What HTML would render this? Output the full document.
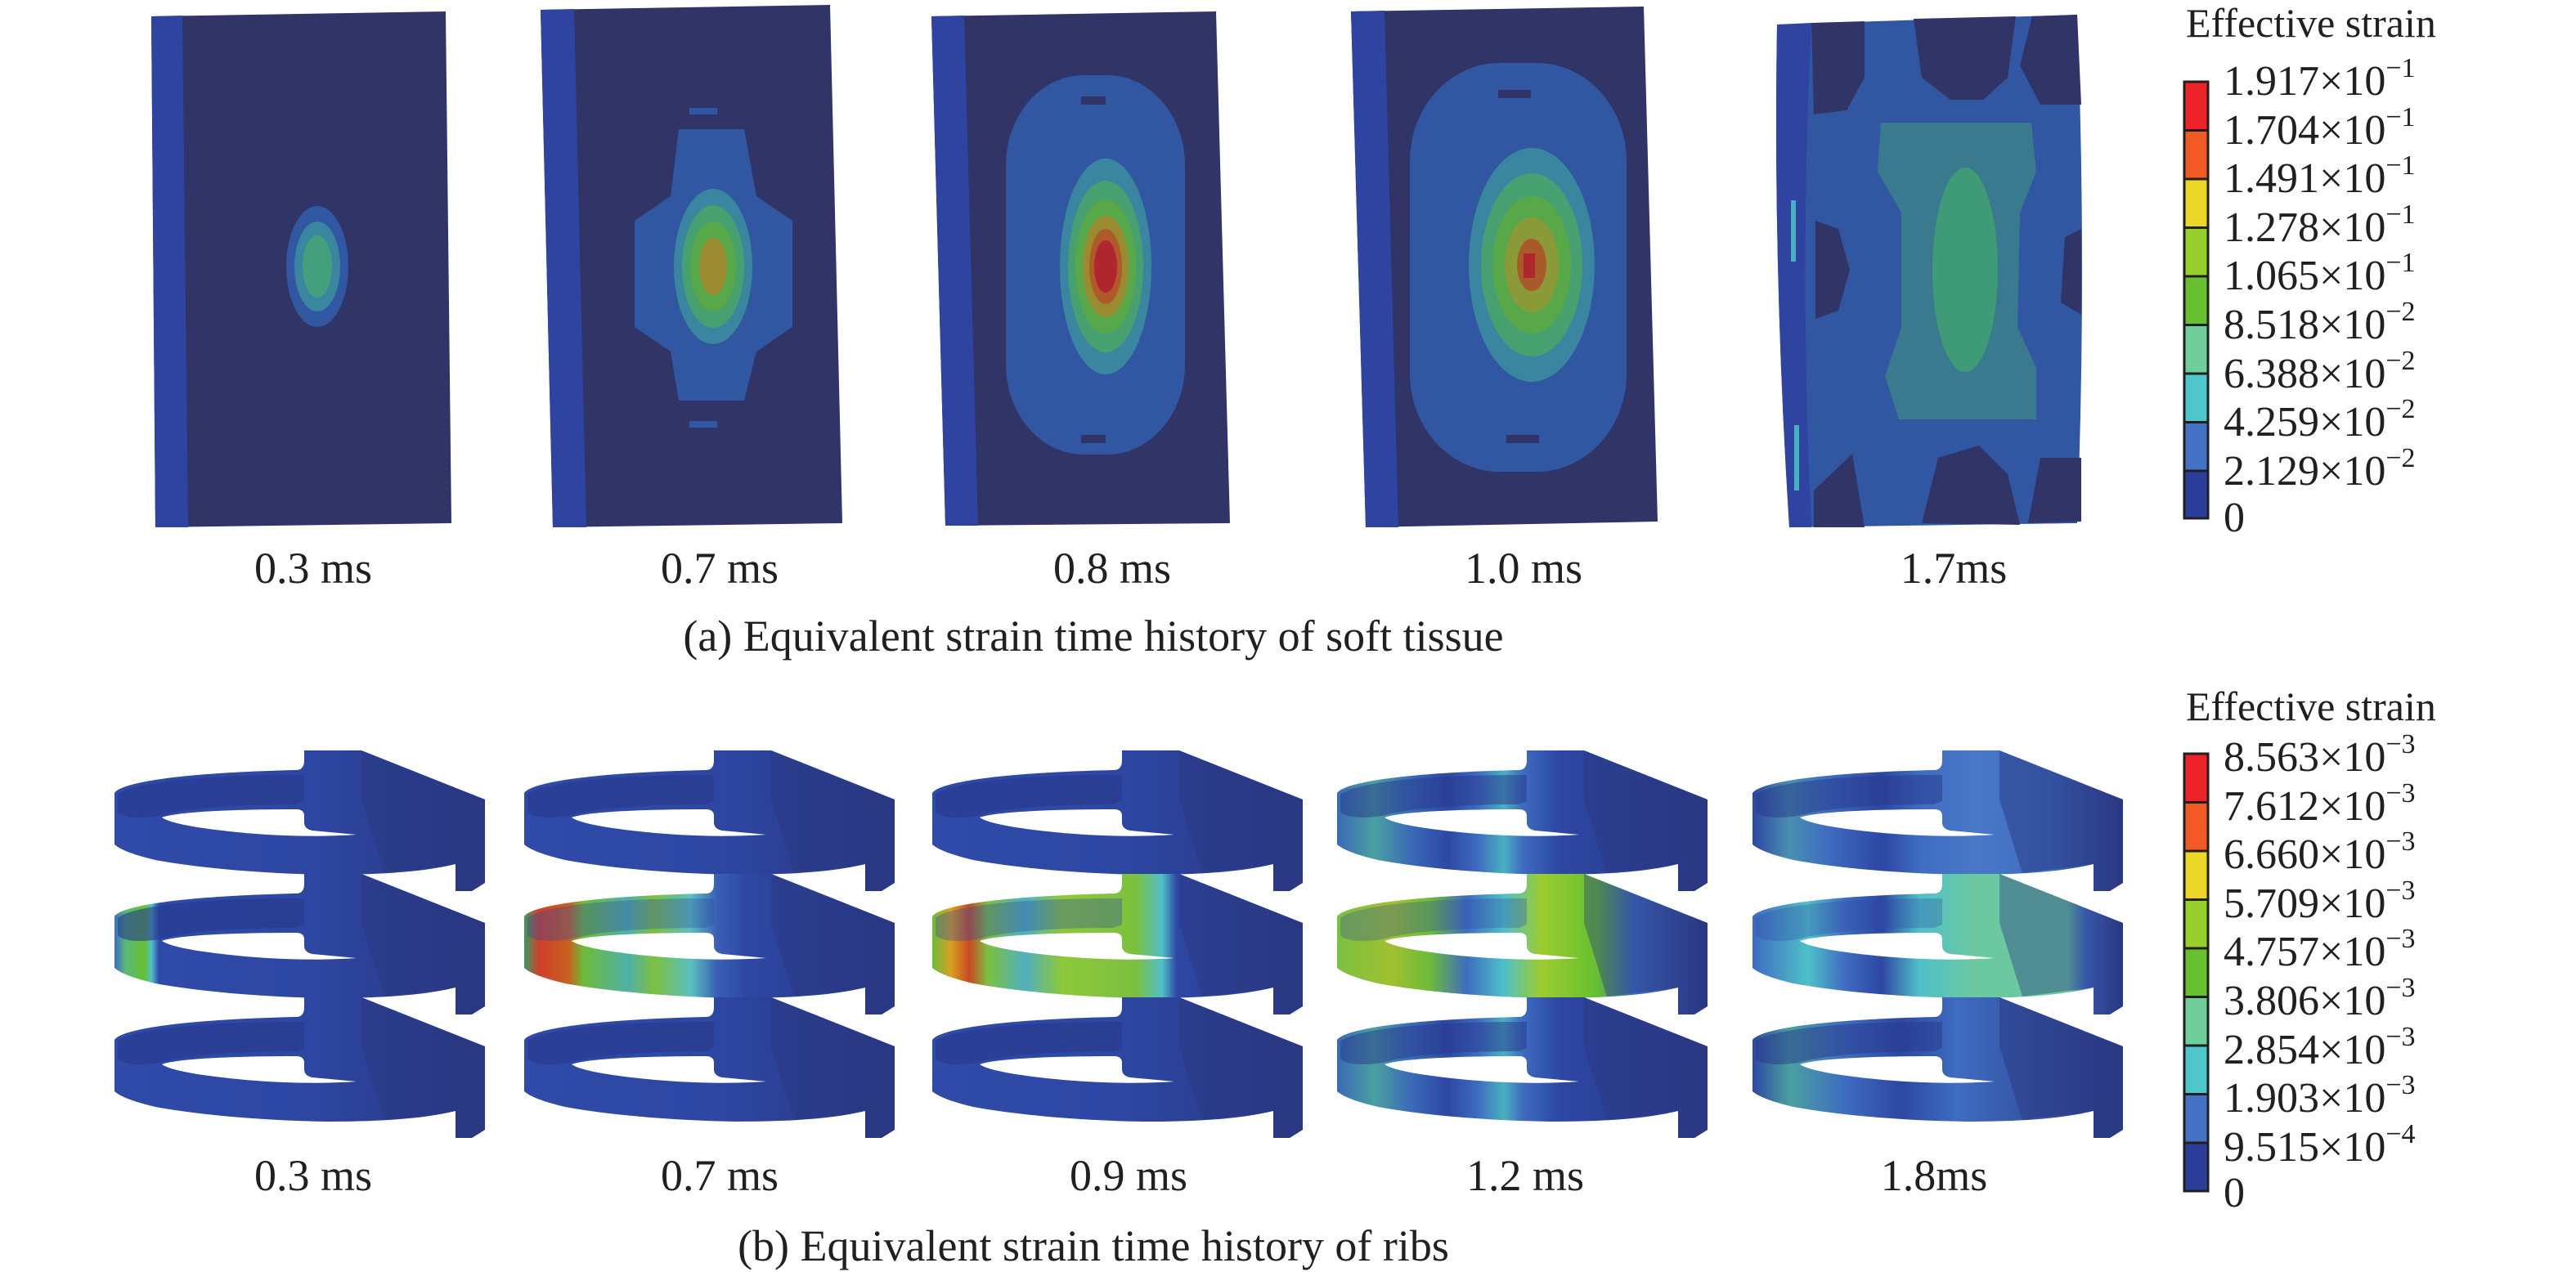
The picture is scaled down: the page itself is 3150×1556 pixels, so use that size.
<!DOCTYPE html>
<html><head><meta charset="utf-8"><style>
html,body{margin:0;padding:0;background:#fff;}
svg{display:block;}
</style></head><body>
<svg width="3150" height="1556" viewBox="0 0 3150 1556" xmlns="http://www.w3.org/2000/svg" font-family="'Liberation Serif', serif">
<defs>
<path id="rp" d="M0 52 C10 38 90 27 222 24 Q232 24 232 12 L232 0 L302 0 L453 60 L453 162 L437 172 L417 172 L417 139 C380 148 330 152 260 152 C190 151 110 145 50 134 C25 128 8 122 0 115 Z"/>
<path id="bw" d="M4 54 C20 40 100 30 222 30 L232 30 L232 62 L222 66 C150 66 90 70 55 80 C30 84 10 82 4 75 Z"/>
<path id="hp" d="M58 82 C80 74 160 72 222 72 Q232 72 232 80 L232 88 Q232 96 242 98 L296 103 C250 106 200 105 150 100 C100 95 68 89 58 82 Z"/>
<path id="rb" d="M302 0 L453 60 L453 162 L437 172 L417 172 L417 139 L330 150 L302 60 Z"/>
<linearGradient id="g0"><stop offset="0" stop-color="#2f4aa8"/><stop offset="0.5" stop-color="#2d47a3"/><stop offset="1" stop-color="#2a3782"/></linearGradient>
<linearGradient id="g1m"><stop offset="0" stop-color="#3e6cc0"/><stop offset="0.03" stop-color="#5ab87a"/><stop offset="0.08" stop-color="#66c030"/><stop offset="0.1" stop-color="#4fc0c8"/><stop offset="0.12" stop-color="#2f4aa8"/><stop offset="0.5" stop-color="#2d47a3"/><stop offset="1" stop-color="#2a3782"/></linearGradient>
<linearGradient id="g2m"><stop offset="0" stop-color="#3a9a60"/><stop offset="0.04" stop-color="#d0402a"/><stop offset="0.12" stop-color="#c8601f"/><stop offset="0.16" stop-color="#6dbb3a"/><stop offset="0.28" stop-color="#4fb0a8"/><stop offset="0.35" stop-color="#7cc040"/><stop offset="0.45" stop-color="#59c0c0"/><stop offset="0.52" stop-color="#3a5fb5"/><stop offset="0.6" stop-color="#2d47a3"/><stop offset="1" stop-color="#2a3782"/></linearGradient>
<linearGradient id="g3m"><stop offset="0" stop-color="#6dbb3a"/><stop offset="0.05" stop-color="#d8a020"/><stop offset="0.1" stop-color="#c84a25"/><stop offset="0.15" stop-color="#7cc040"/><stop offset="0.25" stop-color="#4fb0c0"/><stop offset="0.35" stop-color="#8cc83a"/><stop offset="0.55" stop-color="#7cc040"/><stop offset="0.62" stop-color="#4fc0c8"/><stop offset="0.66" stop-color="#2d47a3"/><stop offset="1" stop-color="#2a3782"/></linearGradient>
<linearGradient id="g4t"><stop offset="0" stop-color="#3a6ab8"/><stop offset="0.1" stop-color="#4aa0a0"/><stop offset="0.2" stop-color="#3a6ab8"/><stop offset="0.3" stop-color="#2d47a3"/><stop offset="0.38" stop-color="#3e6cc0"/><stop offset="0.45" stop-color="#4ab0c0"/><stop offset="0.5" stop-color="#3e6cc0"/><stop offset="0.6" stop-color="#2d47a3"/><stop offset="1" stop-color="#2a3782"/></linearGradient>
<linearGradient id="g4m"><stop offset="0" stop-color="#7cc040"/><stop offset="0.15" stop-color="#a0c030"/><stop offset="0.25" stop-color="#6dbb3a"/><stop offset="0.35" stop-color="#3e6cc0"/><stop offset="0.45" stop-color="#4fc0c8"/><stop offset="0.55" stop-color="#9ccc30"/><stop offset="0.7" stop-color="#66c030"/><stop offset="0.8" stop-color="#3e6cc0"/><stop offset="1" stop-color="#2a3782"/></linearGradient>
<linearGradient id="g5t"><stop offset="0" stop-color="#2d47a3"/><stop offset="0.1" stop-color="#4a90b0"/><stop offset="0.2" stop-color="#3e6cc0"/><stop offset="0.35" stop-color="#2d47a3"/><stop offset="0.45" stop-color="#3e6cc0"/><stop offset="0.6" stop-color="#4a78c8"/><stop offset="0.8" stop-color="#3e6cc0"/><stop offset="1" stop-color="#2a3782"/></linearGradient>
<linearGradient id="g5m"><stop offset="0" stop-color="#3e6cc0"/><stop offset="0.15" stop-color="#4fc0c8"/><stop offset="0.25" stop-color="#3e6cc0"/><stop offset="0.35" stop-color="#2d47a3"/><stop offset="0.45" stop-color="#4fc0c8"/><stop offset="0.6" stop-color="#6cc8a0"/><stop offset="0.85" stop-color="#6cc8a0"/><stop offset="0.9" stop-color="#3e6cc0"/><stop offset="1" stop-color="#2a3782"/></linearGradient>
<linearGradient id="g5b"><stop offset="0" stop-color="#2d47a3"/><stop offset="0.1" stop-color="#4aa0a0"/><stop offset="0.25" stop-color="#3e6cc0"/><stop offset="0.4" stop-color="#2d47a3"/><stop offset="0.55" stop-color="#3e6cc0"/><stop offset="1" stop-color="#2a3782"/></linearGradient>
</defs>

<!-- Soft tissue panel 1 -->
<polygon points="185,20 545,14 552,640 190,645" fill="#313466"/>
<polygon points="185,20 223,19 230,645 190,645" fill="#2e44a0"/>
<ellipse cx="388" cy="326" rx="38" ry="74" fill="#3157a3"/>
<ellipse cx="388" cy="326" rx="28" ry="55" fill="#3a86a0"/>
<ellipse cx="388" cy="326" rx="18" ry="38" fill="#44a07c"/>

<!-- panel 2 -->
<polygon points="661,12 1015,6 1030,640 676,645" fill="#313466"/>
<polygon points="661,12 702,11 717,645 676,645" fill="#2e44a0"/>
<polygon points="830,158 910,158 925,240 969,270 969,400 925,430 910,490 830,490 820,430 776,400 776,270 820,240" fill="#3157a3"/>
<ellipse cx="872" cy="326" rx="48" ry="95" fill="#3a86a0"/>
<ellipse cx="872" cy="326" rx="38" ry="75" fill="#46a070"/>
<ellipse cx="872" cy="326" rx="28" ry="55" fill="#58a84a"/>
<ellipse cx="872" cy="326" rx="17" ry="35" fill="#9a8a30"/>
<rect x="843" y="132" width="34" height="8" fill="#3157a3"/>
<rect x="843" y="515" width="34" height="8" fill="#3157a3"/>

<!-- panel 3 -->
<polygon points="1139,20 1487,14 1504,640 1156,643" fill="#313466"/>
<polygon points="1139,20 1179,19 1196,643 1156,643" fill="#2e44a0"/>
<rect x="1230" y="92" width="219" height="464" rx="95" ry="110" fill="#3157a3"/>
<ellipse cx="1352" cy="326" rx="56" ry="132" fill="#3a86a0"/>
<ellipse cx="1352" cy="326" rx="46" ry="105" fill="#46a070"/>
<ellipse cx="1352" cy="326" rx="37" ry="82" fill="#58a84a"/>
<ellipse cx="1352" cy="326" rx="28" ry="62" fill="#9a8a30"/>
<ellipse cx="1352" cy="326" rx="20" ry="46" fill="#b05a2a"/>
<ellipse cx="1352" cy="326" rx="14" ry="32" fill="#b0262e"/>
<rect x="1322" y="118" width="30" height="10" fill="#313466"/>
<rect x="1322" y="532" width="30" height="10" fill="#313466"/>

<!-- panel 4 -->
<polygon points="1652,14 2010,8 2027,638 1670,645" fill="#313466"/>
<polygon points="1652,14 1693,13 1710,645 1670,645" fill="#2e44a0"/>
<rect x="1724" y="77" width="265" height="500" rx="110" ry="120" fill="#3157a3"/>
<ellipse cx="1873" cy="324" rx="77" ry="143" fill="#3a86a0"/>
<ellipse cx="1873" cy="324" rx="62" ry="112" fill="#46a070"/>
<ellipse cx="1873" cy="324" rx="48" ry="84" fill="#58a84a"/>
<ellipse cx="1873" cy="324" rx="33" ry="58" fill="#8a9a38"/>
<ellipse cx="1873" cy="324" rx="18" ry="32" fill="#a85a2a"/>
<rect x="1863" y="310" width="14" height="30" fill="#b0262e"/>
<rect x="1832" y="110" width="40" height="10" fill="#313466"/>
<rect x="1842" y="532" width="40" height="10" fill="#313466"/>

<!-- panel 5 -->
<path d="M2173,30 L2540,18 Q2552,330 2540,640 L2188,645 Q2168,330 2173,30 Z" fill="#3157a3"/>
<path d="M2173,30 L2215,28 Q2200,330 2215,645 L2188,645 Q2168,330 2173,30 Z" fill="#2e44a0"/>
<rect x="2190" y="245" width="6" height="75" fill="#48b0c0"/>
<rect x="2194" y="520" width="6" height="80" fill="#48b0c0"/>
<path d="M2215,28 L2280,26 L2280,95 L2258,135 L2218,140 Z" fill="#313466"/>
<path d="M2340,23 L2465,20 L2455,95 L2425,122 L2385,122 L2350,95 Z" fill="#313466"/>
<path d="M2485,20 L2540,18 L2545,128 L2495,128 L2470,80 Z" fill="#313466"/>
<path d="M2220,270 L2248,280 L2262,330 L2248,380 L2220,390 Z" fill="#313466"/>
<path d="M2545,280 L2525,290 L2520,370 L2545,385 Z" fill="#313466"/>
<path d="M2218,600 L2265,555 L2280,645 L2218,645 Z" fill="#313466"/>
<path d="M2350,640 L2370,560 L2420,545 L2455,580 L2470,642 Z" fill="#313466"/>
<path d="M2480,640 L2495,560 L2545,560 L2545,638 Z" fill="#313466"/>
<path d="M2300,150 L2484,150 L2490,210 L2470,260 L2467,400 L2490,450 L2490,513 L2322,513 L2305,460 L2325,400 L2325,260 L2296,210 Z" fill="#3a7a8f"/>
<ellipse cx="2403" cy="330" rx="40" ry="125" fill="#3f9a78"/>

<!-- top labels -->
<g font-size="54" text-anchor="middle" fill="#231f20">
<text x="383" y="713">0.3 ms</text>
<text x="880" y="713">0.7 ms</text>
<text x="1360" y="713">0.8 ms</text>
<text x="1863" y="713">1.0 ms</text>
<text x="2389" y="713">1.7ms</text>
<text x="1337" y="796">(a) Equivalent strain time history of soft tissue</text>
</g>

<!-- ribs -->
<g transform="translate(140,918)"><use href="#rp" fill="url(#g0)"/><use href="#bw" fill="#28388a" opacity="0.6"/><use href="#rb" fill="#2a3782" opacity="0.5"/><use href="#hp" fill="#fff"/></g>
<g transform="translate(140,1069)"><use href="#rp" fill="url(#g1m)"/><use href="#bw" fill="#28388a" opacity="0.6"/><use href="#rb" fill="#2a3782" opacity="0.5"/><use href="#hp" fill="#fff"/></g>
<g transform="translate(140,1220)"><use href="#rp" fill="url(#g0)"/><use href="#bw" fill="#28388a" opacity="0.6"/><use href="#rb" fill="#2a3782" opacity="0.5"/><use href="#hp" fill="#fff"/></g>

<g transform="translate(641,918)"><use href="#rp" fill="url(#g0)"/><use href="#bw" fill="#28388a" opacity="0.6"/><use href="#rb" fill="#2a3782" opacity="0.5"/><use href="#hp" fill="#fff"/></g>
<g transform="translate(641,1069)"><use href="#rp" fill="url(#g2m)"/><use href="#bw" fill="#2d47a3" opacity="0.35"/><use href="#rb" fill="#2a3782" opacity="0.5"/><use href="#hp" fill="#fff"/></g>
<g transform="translate(641,1220)"><use href="#rp" fill="url(#g0)"/><use href="#bw" fill="#28388a" opacity="0.6"/><use href="#rb" fill="#2a3782" opacity="0.5"/><use href="#hp" fill="#fff"/></g>

<g transform="translate(1140,918)"><use href="#rp" fill="url(#g0)"/><use href="#bw" fill="#28388a" opacity="0.6"/><use href="#rb" fill="#2a3782" opacity="0.5"/><use href="#hp" fill="#fff"/></g>
<g transform="translate(1140,1069)"><use href="#rp" fill="url(#g3m)"/><use href="#bw" fill="#2d47a3" opacity="0.35"/><use href="#rb" fill="#2a3782" opacity="0.5"/><use href="#hp" fill="#fff"/></g>
<g transform="translate(1140,1220)"><use href="#rp" fill="url(#g0)"/><use href="#bw" fill="#28388a" opacity="0.6"/><use href="#rb" fill="#2a3782" opacity="0.5"/><use href="#hp" fill="#fff"/></g>

<g transform="translate(1635,918)"><use href="#rp" fill="url(#g4t)"/><use href="#bw" fill="#28388a" opacity="0.5"/><use href="#rb" fill="#2a3782" opacity="0.5"/><use href="#hp" fill="#fff"/></g>
<g transform="translate(1635,1069)"><use href="#rp" fill="url(#g4m)"/><use href="#bw" fill="#2d47a3" opacity="0.3"/><use href="#rb" fill="#2a3782" opacity="0.4"/><use href="#hp" fill="#fff"/></g>
<g transform="translate(1635,1220)"><use href="#rp" fill="url(#g4t)"/><use href="#bw" fill="#28388a" opacity="0.5"/><use href="#rb" fill="#2a3782" opacity="0.5"/><use href="#hp" fill="#fff"/></g>

<g transform="translate(2143,918)"><use href="#rp" fill="url(#g5t)"/><use href="#bw" fill="#28388a" opacity="0.5"/><use href="#rb" fill="#2a3782" opacity="0.5"/><use href="#hp" fill="#fff"/></g>
<g transform="translate(2143,1069)"><use href="#rp" fill="url(#g5m)"/><use href="#bw" fill="#2d47a3" opacity="0.3"/><use href="#rb" fill="#2a3782" opacity="0.4"/><use href="#hp" fill="#fff"/></g>
<g transform="translate(2143,1220)"><use href="#rp" fill="url(#g5b)"/><use href="#bw" fill="#28388a" opacity="0.5"/><use href="#rb" fill="#2a3782" opacity="0.5"/><use href="#hp" fill="#fff"/></g>

<g font-size="54" text-anchor="middle" fill="#231f20">
<text x="383" y="1456">0.3 ms</text>
<text x="880" y="1456">0.7 ms</text>
<text x="1380" y="1456">0.9 ms</text>
<text x="1865" y="1456">1.2 ms</text>
<text x="2365" y="1456">1.8ms</text>
<text x="1337" y="1542">(b) Equivalent strain time history of ribs</text>
</g>

<!-- Legend top -->
<text x="2673" y="45" font-size="50" fill="#231f20">Effective strain</text>
<g stroke="#231f20" stroke-width="3">
<rect x="2671" y="100" width="29" height="59.5" fill="#ee2229"/>
<rect x="2671" y="159.5" width="29" height="59.5" fill="#f15a24"/>
<rect x="2671" y="219" width="29" height="59.5" fill="#ecd627"/>
<rect x="2671" y="278.5" width="29" height="59.5" fill="#98d02b"/>
<rect x="2671" y="338" width="29" height="59.5" fill="#66c030"/>
<rect x="2671" y="397.5" width="29" height="59.5" fill="#6fcf9a"/>
<rect x="2671" y="457" width="29" height="59.5" fill="#4ec6cc"/>
<rect x="2671" y="516.5" width="29" height="59.5" fill="#4472c4"/>
<rect x="2671" y="576" width="29" height="58" fill="#2b3f9a"/>
</g>
<g font-size="52" fill="#231f20">
<text x="2719" y="116">1.917×10<tspan font-size="34" dy="-22">−1</tspan></text>
<text x="2719" y="176">1.704×10<tspan font-size="34" dy="-22">−1</tspan></text>
<text x="2719" y="235">1.491×10<tspan font-size="34" dy="-22">−1</tspan></text>
<text x="2719" y="295">1.278×10<tspan font-size="34" dy="-22">−1</tspan></text>
<text x="2719" y="354">1.065×10<tspan font-size="34" dy="-22">−1</tspan></text>
<text x="2719" y="414">8.518×10<tspan font-size="34" dy="-22">−2</tspan></text>
<text x="2719" y="474">6.388×10<tspan font-size="34" dy="-22">−2</tspan></text>
<text x="2719" y="533">4.259×10<tspan font-size="34" dy="-22">−2</tspan></text>
<text x="2719" y="593">2.129×10<tspan font-size="34" dy="-22">−2</tspan></text>
<text x="2719" y="650">0</text>
</g>

<!-- Legend bottom -->
<text x="2673" y="881" font-size="50" fill="#231f20">Effective strain</text>
<g stroke="#231f20" stroke-width="3">
<rect x="2671" y="922" width="29" height="59.5" fill="#ee2229"/>
<rect x="2671" y="981.5" width="29" height="59.5" fill="#f15a24"/>
<rect x="2671" y="1041" width="29" height="59.5" fill="#ecd627"/>
<rect x="2671" y="1100.5" width="29" height="59.5" fill="#98d02b"/>
<rect x="2671" y="1160" width="29" height="59.5" fill="#66c030"/>
<rect x="2671" y="1219.5" width="29" height="59.5" fill="#6fcf9a"/>
<rect x="2671" y="1279" width="29" height="59.5" fill="#4ec6cc"/>
<rect x="2671" y="1338.5" width="29" height="59.5" fill="#4472c4"/>
<rect x="2671" y="1398" width="29" height="59" fill="#2b3f9a"/>
</g>
<g font-size="52" fill="#231f20">
<text x="2719" y="943">8.563×10<tspan font-size="34" dy="-22">−3</tspan></text>
<text x="2719" y="1003">7.612×10<tspan font-size="34" dy="-22">−3</tspan></text>
<text x="2719" y="1062">6.660×10<tspan font-size="34" dy="-22">−3</tspan></text>
<text x="2719" y="1122">5.709×10<tspan font-size="34" dy="-22">−3</tspan></text>
<text x="2719" y="1181">4.757×10<tspan font-size="34" dy="-22">−3</tspan></text>
<text x="2719" y="1241">3.806×10<tspan font-size="34" dy="-22">−3</tspan></text>
<text x="2719" y="1301">2.854×10<tspan font-size="34" dy="-22">−3</tspan></text>
<text x="2719" y="1360">1.903×10<tspan font-size="34" dy="-22">−3</tspan></text>
<text x="2719" y="1420">9.515×10<tspan font-size="34" dy="-22">−4</tspan></text>
<text x="2719" y="1476">0</text>
</g>
</svg>
</body></html>
